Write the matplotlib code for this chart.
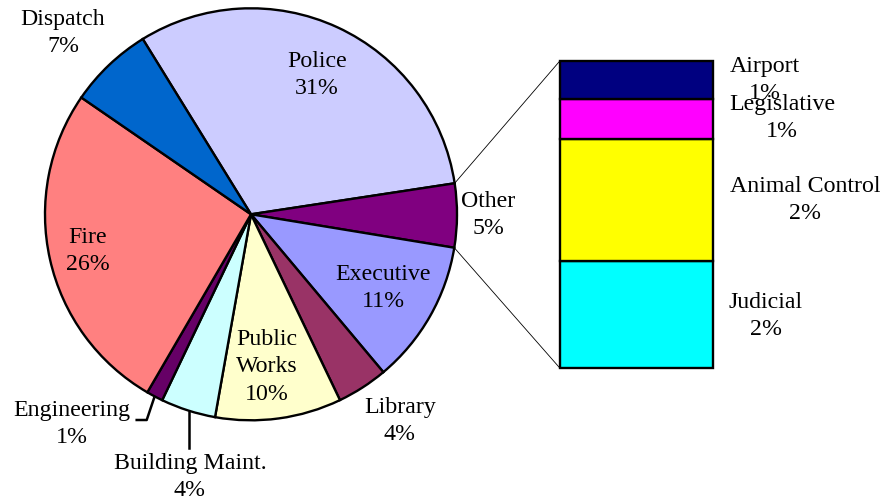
import matplotlib
matplotlib.use("Agg")
import matplotlib.pyplot as plt
import numpy as np

plt.rcParams['font.family'] = ['Liberation Serif', 'DejaVu Serif']

# main pie (percent of total), clockwise from Police
departments = ['Police', 'Other', 'Executive', 'Library', 'Public\nWorks',
               'Building Maint.', 'Engineering', 'Fire', 'Dispatch']
shares = [31.4, 5.0, 11.3, 4.0, 9.9, 4.3, 1.3, 26.2, 6.6]
pie_colors = ['#CCCCFF', '#800080', '#9999FF', '#993366', '#FFFFCC',
              '#CCFFFF', '#660066', '#FF8080', '#0066CC']

# breakdown of "Other", bottom to top
other_parts = ['Judicial', 'Animal Control', 'Legislative', 'Airport']
other_shares = [1.75, 1.98, 0.65, 0.62]
other_colors = ['#00FFFF', '#FFFF00', '#FF00FF', '#000080']

W, H = 890, 503
fig = plt.figure(figsize=(W / 100, H / 100), dpi=100)
ax = fig.add_axes([0, 0, 1, 1])

cx, cy, r = 251, H - 214.3, 206
wedges, _ = ax.pie(shares, colors=pie_colors, startangle=121.7, counterclock=False,
                   center=(cx, cy), radius=r, frame=True,
                   wedgeprops=dict(edgecolor='black', linewidth=1.7))
ax.set_xlim(0, W)
ax.set_ylim(0, H)
ax.set_aspect('equal')
ax.axis('off')

# stacked bar for "Other"
bar_x, bar_w = 636.4, 152.7
bar_bottom = H - 368.3
scale = 307.6 / sum(other_shares)
bottom = bar_bottom
for name, v, c in zip(other_parts, other_shares, other_colors):
    ax.bar(bar_x, v * scale, width=bar_w, bottom=bottom, color=c,
           edgecolor='black', linewidth=1.7)
    bottom += v * scale
bar_top = bottom

# connector lines from the "Other" wedge to the bar
ow = wedges[1]
for ang, yy in [(ow.theta2, bar_top), (ow.theta1, bar_bottom)]:
    px = cx + r * np.cos(np.radians(ang))
    py = cy + r * np.sin(np.radians(ang))
    ax.plot([px, bar_x - bar_w / 2], [py, yy], color='black', linewidth=0.6)

fs = 17.2
def label(x, y, name, v):
    ax.text(x, H - y, f"{name}\n{v:.0f}%", ha='center', va='center',
            fontsize=fs, linespacing=1.42)

label_pos = [(317, 75), (488, 215), (383, 288), (400, 421), (267, 367),
             (190, 477), (72, 424), (88, 251), (63, 33)]
for (x, y), name, v in zip(label_pos, departments, shares):
    label(x, y, name, v)

other_pos = [(766, 316), (805, 200), (782, 118), (765, 80)]
for (x, y), name, v in zip(other_pos, other_parts, other_shares):
    label(x, y, name, v)

# leader lines
ax.plot([154, 146.7, 136.7], [H - 398.3, H - 420, H - 420], color='black', linewidth=1.8)
ax.plot([189.3, 189.3], [H - 411.7, H - 448.3], color='black', linewidth=1.8)

fig.savefig('out.png', dpi=100, facecolor='white')
